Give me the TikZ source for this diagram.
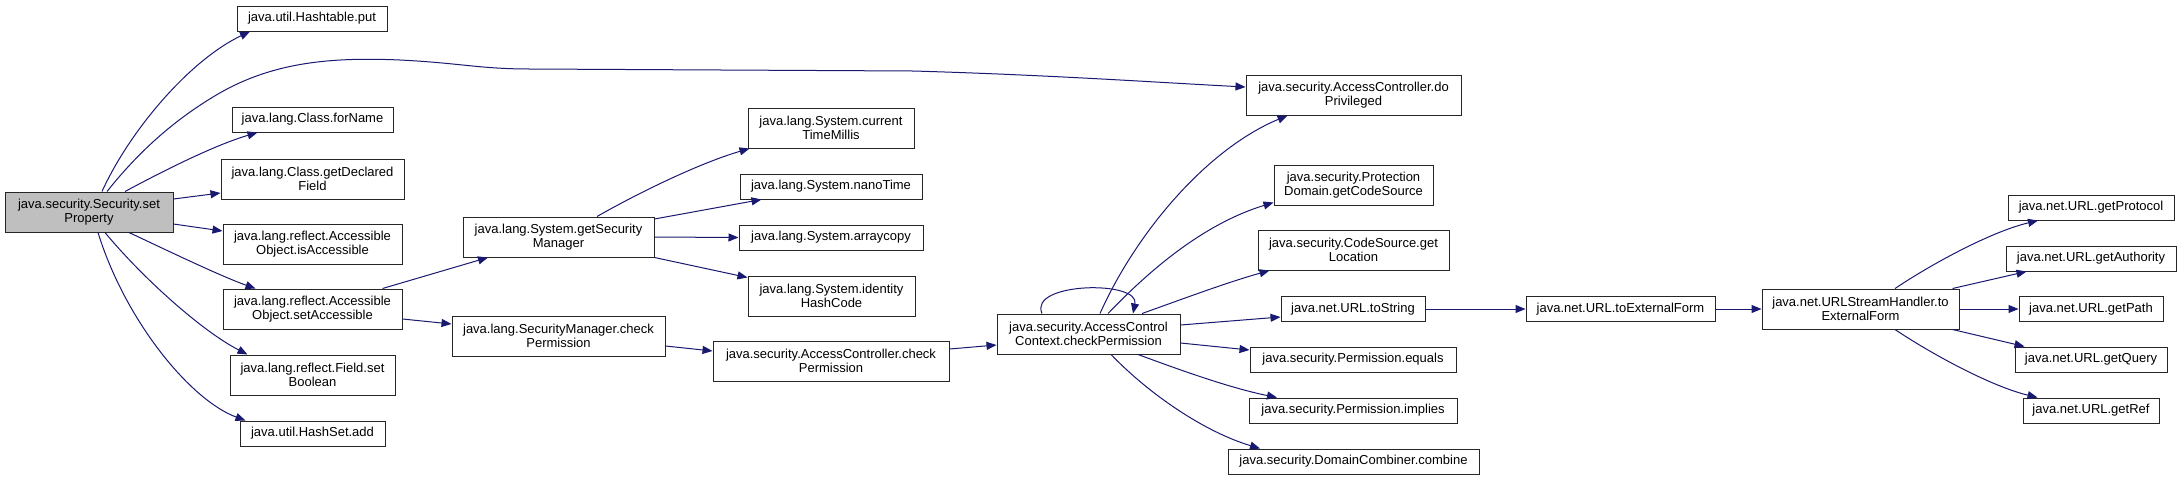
\documentclass[tikz,border=0pt]{standalone}
\usepackage{fontspec}
\setmainfont{Liberation Sans}
\usetikzlibrary{arrows.meta,calc}
\definecolor{edgeblue}{HTML}{191970}
\definecolor{rootgray}{HTML}{BFBFBF}
\begin{document}
\begin{tikzpicture}[x=1pt,y=-1pt,
  nbox/.style={draw=black!85,line width=1pt,fill=white,inner sep=1pt,align=center,
    font=\fontsize{13}{14.5}\selectfont},
  nroot/.style={nbox,fill=rootgray},
  cg/.style={draw=edgeblue,line width=1pt,-{Triangle[length=10pt,width=8pt]}}]
\useasboundingbox (0,0) rectangle (2181,480);
% nodes
\node[nroot,minimum width=168pt,minimum height=40pt] (sp) at (89,212) {java.security.Security.set\\Property};
\node[nbox,minimum width=150pt,minimum height=25pt] (put) at (312,18.5) {java.util.Hashtable.put};
\node[nbox,minimum width=161pt,minimum height=25pt] (fn) at (312.5,119.5) {java.lang.Class.forName};
\node[nbox,minimum width=183pt,minimum height=40pt] (gdf) at (312.5,179) {java.lang.Class.getDeclared\\Field};
\node[nbox,minimum width=179pt,minimum height=40pt] (isa) at (312.5,244) {java.lang.reflect.Accessible\\Object.isAccessible};
\node[nbox,minimum width=179pt,minimum height=40pt] (sa) at (312.5,309) {java.lang.reflect.Accessible\\Object.setAccessible};
\node[nbox,minimum width=165pt,minimum height=40pt] (sb) at (312.5,375) {java.lang.reflect.Field.set\\Boolean};
\node[nbox,minimum width=145pt,minimum height=25pt] (hs) at (312.5,433.5) {java.util.HashSet.add};
\node[nbox,minimum width=191pt,minimum height=40pt] (gsm) at (558.5,237) {java.lang.System.getSecurity\\Manager};
\node[nbox,minimum width=213pt,minimum height=40pt] (smcp) at (558.5,336) {java.lang.SecurityManager.check\\Permission};
\node[nbox,minimum width=166pt,minimum height=40pt] (ctm) at (831,128) {java.lang.System.current\\TimeMillis};
\node[nbox,minimum width=182pt,minimum height=25pt] (nt) at (831,186.5) {java.lang.System.nanoTime};
\node[nbox,minimum width=184pt,minimum height=25pt] (ac) at (831,237.5) {java.lang.System.arraycopy};
\node[nbox,minimum width=167pt,minimum height=40pt] (ihc) at (831.5,296) {java.lang.System.identity\\HashCode};
\node[nbox,minimum width=236pt,minimum height=40pt] (accp) at (831,361) {java.security.AccessController.check\\Permission};
\node[nbox,minimum width=183pt,minimum height=40pt] (acc) at (1088.5,334) {java.security.AccessControl\\Context.checkPermission};
\node[nbox,minimum width=215pt,minimum height=40pt] (dp) at (1353.5,95) {java.security.AccessController.do\\Privileged};
\node[nbox,minimum width=159pt,minimum height=40pt] (pd) at (1353.5,185) {java.security.Protection\\Domain.getCodeSource};
\node[nbox,minimum width=191pt,minimum height=40pt] (cs) at (1353.5,250) {java.security.CodeSource.get\\Location};
\node[nbox,minimum width=144pt,minimum height=25pt] (uts) at (1353,309) {java.net.URL.toString};
\node[nbox,minimum width=206pt,minimum height=25pt] (pe) at (1353,359.5) {java.security.Permission.equals};
\node[nbox,minimum width=208pt,minimum height=25pt] (pi) at (1353,410.5) {java.security.Permission.implies};
\node[nbox,minimum width=251pt,minimum height=25pt] (dc) at (1353.5,461.5) {java.security.DomainCombiner.combine};
\node[nbox,minimum width=189pt,minimum height=25pt] (tef) at (1620.5,309) {java.net.URL.toExternalForm};
\node[nbox,minimum width=197pt,minimum height=40pt] (ush) at (1860.5,309) {java.net.URLStreamHandler.to\\ExternalForm};
\node[nbox,minimum width=166pt,minimum height=25pt] (gp) at (2091,207.5) {java.net.URL.getProtocol};
\node[nbox,minimum width=170pt,minimum height=25pt] (ga) at (2091,258.5) {java.net.URL.getAuthority};
\node[nbox,minimum width=144pt,minimum height=25pt] (gpa) at (2091,309) {java.net.URL.getPath};
\node[nbox,minimum width=152pt,minimum height=25pt] (gq) at (2091,359.5) {java.net.URL.getQuery};
\node[nbox,minimum width=136pt,minimum height=25pt] (gr) at (2091,410.5) {java.net.URL.getRef};
% edges from setProperty
\draw[cg] ($(sp.north)+(13,0)$) .. controls (130,130) and (190,60) .. ($(put.south)+(-62,0)$);
\draw[cg] ($(sp.north)+(18,0)$) .. controls (140,150) and (175,120) .. (213,97)
  .. controls (270,62) and (330,57) .. (400,60)
  .. controls (460,63) and (480,69) .. (530,69)
  -- (913,71) .. controls (1050,75) and (1150,82) .. ($(dp.west)+(0,-8)$);
\draw[cg] ($(sp.north)+(36,0)$) .. controls (165,170) and (215,145) .. ($(fn.south)+(-55,0)$);
\draw[cg] ($(sp.east)+(0,-13)$) -- ($(gdf.west)+(0,14)$);
\draw[cg] ($(sp.east)+(0,12)$) -- ($(isa.west)+(0,-13)$);
\draw[cg] ($(sp.south)+(40,0)$) .. controls (160,247) and (220,276) .. ($(sa.north)+(-57,0)$);
\draw[cg] ($(sp.south)+(16,0)$) .. controls (140,275) and (200,330) .. ($(sb.north)+(-65,0)$);
\draw[cg] ($(sp.south)+(9,0)$) .. controls (125,320) and (190,400) .. ($(hs.north)+(-67,0)$);
% setAccessible
\draw[cg] ($(sa.north)+(70,0)$) -- ($(gsm.south)+(-70.5,0)$);
\draw[cg] ($(sa.east)+(0,10)$) -- ($(smcp.west)+(0,-12)$);
% getSecurityManager
\draw[cg] ($(gsm.north)+(38.5,0)$) .. controls (640,192) and (700,163) .. ($(ctm.south west)+(2,0)$);
\draw[cg] ($(gsm.east)+(0,-18)$) -- ($(nt.south west)+(22,0)$);
\draw[cg] (gsm.east) -- (ac.west);
\draw[cg] (gsm.south east) -- ($(ihc.north west)+(0,2)$);
% checkPermission chain
\draw[cg] ($(smcp.east)+(0,10)$) -- ($(accp.west)+(0,-10)$);
\draw[cg] ($(accp.east)+(0,-12)$) -- ($(acc.west)+(0,11)$);
% AccessControlContext
\draw[cg] ($(acc.north)+(-46.5,0)$) .. controls (1028,282) and (1140,280) .. ($(acc.north)+(44.5,0)$);
\draw[cg] ($(acc.north)+(11.5,0)$) .. controls (1135,235) and (1205,150) .. ($(dp.south)+(-66,0)$);
\draw[cg] ($(acc.north)+(19.5,0)$) .. controls (1145,275) and (1200,225) .. ($(pd.south west)+(0,-3)$);
\draw[cg] ($(acc.north)+(53.5,0)$) .. controls (1180,300) and (1225,283) .. ($(cs.south west)+(12,0)$);
\draw[cg] ($(acc.east)+(0,-9)$) -- ($(uts.west)+(0,8)$);
\draw[cg] ($(acc.east)+(0,9)$) -- ($(pe.west)+(0,-9.5)$);
\draw[cg] ($(acc.south)+(49.5,0)$) .. controls (1180,370) and (1230,388) .. ($(pi.north)+(-76,0)$);
\draw[cg] ($(acc.south)+(22.5,0)$) .. controls (1150,395) and (1205,432) .. ($(dc.north)+(-93.5,0)$);
% URL chain
\draw[cg] (uts.east) -- (tef.west);
\draw[cg] (tef.east) -- (ush.west);
\draw[cg] ($(ush.north)+(34.5,0)$) .. controls (1930,265) and (1990,232) .. ($(gp.south)+(-53,0)$);
\draw[cg] ($(ush.north east)+(-7,0)$) -- ($(ga.south west)+(21,0)$);
\draw[cg] (ush.east) -- (gpa.west);
\draw[cg] ($(ush.south east)+(-7,0)$) -- ($(gq.north west)+(10,0)$);
\draw[cg] ($(ush.south)+(34.5,0)$) .. controls (1930,353) and (1990,386) .. ($(gr.north west)+(15,0)$);
\end{tikzpicture}
\end{document}
